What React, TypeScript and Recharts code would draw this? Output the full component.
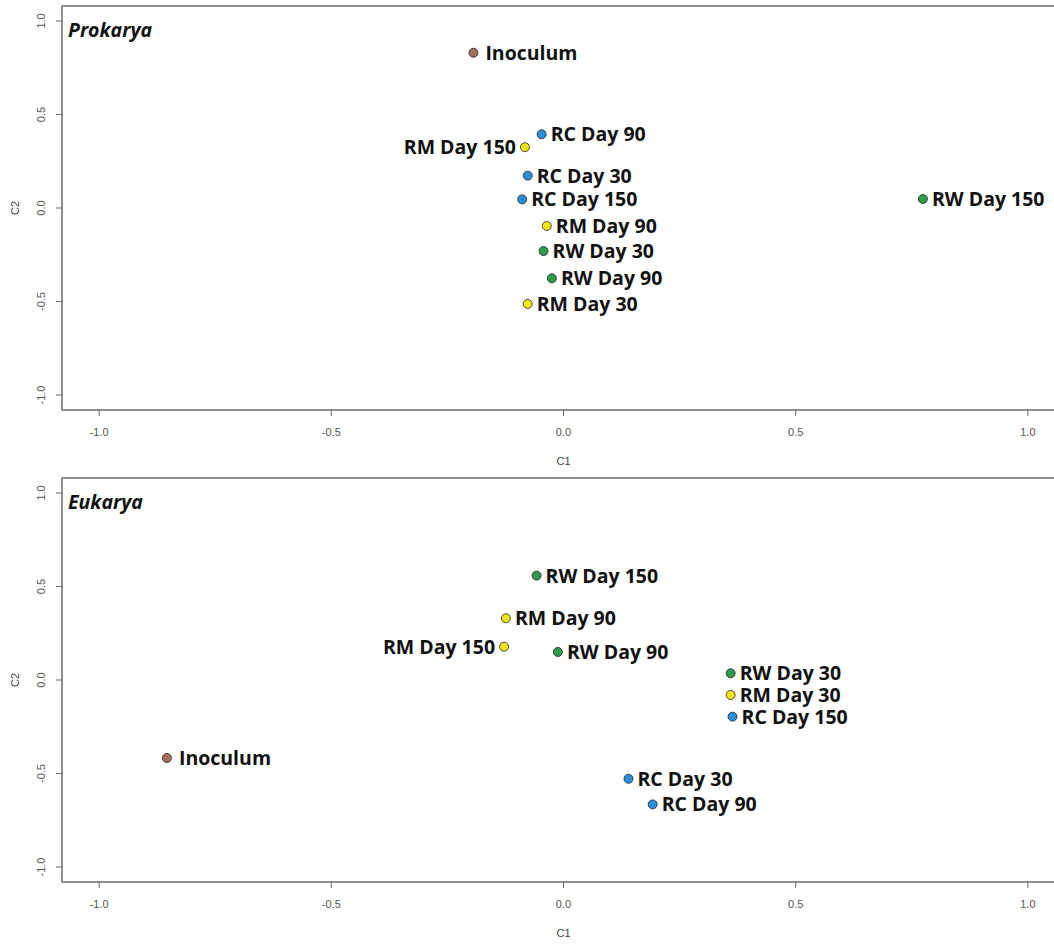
import React from 'react';
import { ScatterChart, Scatter, XAxis, YAxis } from 'recharts';

// NMDS-style ordination, two panels (C1 vs C2)
const prokaryaNames = ['Inoculum', 'RC Day 90', 'RM Day 150', 'RC Day 30', 'RC Day 150', 'RM Day 90', 'RW Day 30', 'RW Day 90', 'RM Day 30', 'RW Day 150'];
const prokaryaC1 = [-0.194, -0.047, -0.083, -0.077, -0.089, -0.036, -0.043, -0.025, -0.077, 0.774];
const prokaryaC2 = [0.83, 0.394, 0.325, 0.173, 0.046, -0.096, -0.23, -0.376, -0.513, 0.048];

const eukaryaNames = ['Inoculum', 'RW Day 150', 'RM Day 90', 'RM Day 150', 'RW Day 90', 'RW Day 30', 'RM Day 30', 'RC Day 150', 'RC Day 30', 'RC Day 90'];
const eukaryaC1 = [-0.854, -0.058, -0.124, -0.128, -0.012, 0.36, 0.36, 0.364, 0.14, 0.192];
const eukaryaC2 = [-0.417, 0.558, 0.33, 0.178, 0.15, 0.036, -0.08, -0.196, -0.528, -0.665];

const axisTicks = [-1, -0.5, 0, 0.5, 1];
const leftLabelled = ['RM Day 150'];

const groupColors: Record<string, string> = {
  Inoculum: '#a4705c',
  RC: '#2b8fd6',
  RM: '#f3e51b',
  RW: '#2f9c4c',
};

const AXIS = '#6a6a6a';
const TICK_FONT = "'Liberation Sans', Arial, sans-serif";
const LABEL_FONT = "'Open Sans', sans-serif";

function colorOf(name: string) {
  return groupColors[name] ?? groupColors[name.slice(0, 2)] ?? '#888';
}

function PointShape(props: any) {
  const { cx, cy, payload } = props;
  const left = leftLabelled.includes(payload.name);
  const gap = payload.name === 'Inoculum' ? 12 : 9;
  return (
    <g>
      <circle cx={cx} cy={cy} r={4.5} fill={colorOf(payload.name)} stroke="#222" strokeWidth={0.8} />
      <text
        x={left ? cx - gap : cx + gap}
        y={cy + 7}
        textAnchor={left ? 'end' : 'start'}
        fontFamily={LABEL_FONT}
        fontWeight={700}
        fontSize={19.5}
        fill="#111"
      >
        {payload.name}
      </text>
    </g>
  );
}

function YTick(props: any) {
  const { x, y, payload } = props;
  return (
    <text
      x={x}
      y={y}
      transform={`rotate(-90 ${x} ${y})`}
      textAnchor="middle"
      fontFamily={TICK_FONT}
      fontSize={11}
      fill="#555"
    >
      {Number(payload.value).toFixed(1)}
    </text>
  );
}

function YTitle(props: any) {
  const vb = props.viewBox || { x: 0, y: 0, width: 62, height: 404 };
  const x = vb.x + 19;
  const y = vb.y + vb.height / 2;
  return (
    <text x={x} y={y} transform={`rotate(-90 ${x} ${y})`} textAnchor="middle" fontFamily={TICK_FONT} fontSize={11} fill="#444">
      C2
    </text>
  );
}

function PanelTitle(props: any) {
  const vb = props.viewBox || { x: 62, y: 5, height: 1 };
  return (
    <text x={vb.x + 6} y={vb.y + vb.height + 31} fontFamily={LABEL_FONT} fontWeight={700} fontStyle="italic" fontSize={19.5} fill="#111">
      {props.text}
    </text>
  );
}

function Panel({ title, names, c1, c2 }: { title: string; names: string[]; c1: number[]; c2: number[] }) {
  const data = names.map((name, i) => ({ name, c1: c1[i], c2: c2[i] }));
  return (
    <ScatterChart width={1070} height={472} margin={{ top: 5, right: 5, bottom: 0, left: 0 }}>
      <XAxis
        xAxisId="top"
        orientation="top"
        type="number"
        dataKey="c1"
        domain={[-1.08, 1.08]}
        height={1}
        tick={false}
        tickLine={false}
        axisLine={{ stroke: AXIS, strokeWidth: 1.5 }}
        label={<PanelTitle text={title} />}
      />
      <XAxis
        type="number"
        dataKey="c1"
        domain={[-1.08, 1.08]}
        ticks={axisTicks}
        tickFormatter={(v: number) => v.toFixed(1)}
        height={62}
        tickSize={6}
        tickMargin={12}
        tick={{ fontFamily: TICK_FONT, fontSize: 11, fill: '#555' }}
        tickLine={{ stroke: AXIS }}
        axisLine={{ stroke: AXIS, strokeWidth: 1.5 }}
        label={{ value: 'C1', position: 'insideBottom', offset: 7, fontFamily: TICK_FONT, fontSize: 11, fill: '#444' }}
      />
      <YAxis
        type="number"
        dataKey="c2"
        domain={[-1.08, 1.08]}
        ticks={axisTicks}
        width={62}
        tickSize={6}
        tickMargin={11}
        tick={<YTick />}
        tickLine={{ stroke: AXIS }}
        axisLine={{ stroke: AXIS, strokeWidth: 1.5 }}
        label={<YTitle />}
      />
      <Scatter data={data} shape={<PointShape />} isAnimationActive={false} />
    </ScatterChart>
  );
}

export default function App() {
  return (
    <div style={{ position: 'absolute', left: 0, top: 0, width: 1054, height: 945, overflow: 'hidden', background: '#fff' }}>
      <Panel title="Prokarya" names={prokaryaNames} c1={prokaryaC1} c2={prokaryaC2} />
      <Panel title="Eukarya" names={eukaryaNames} c1={eukaryaC1} c2={eukaryaC2} />
    </div>
  );
}
